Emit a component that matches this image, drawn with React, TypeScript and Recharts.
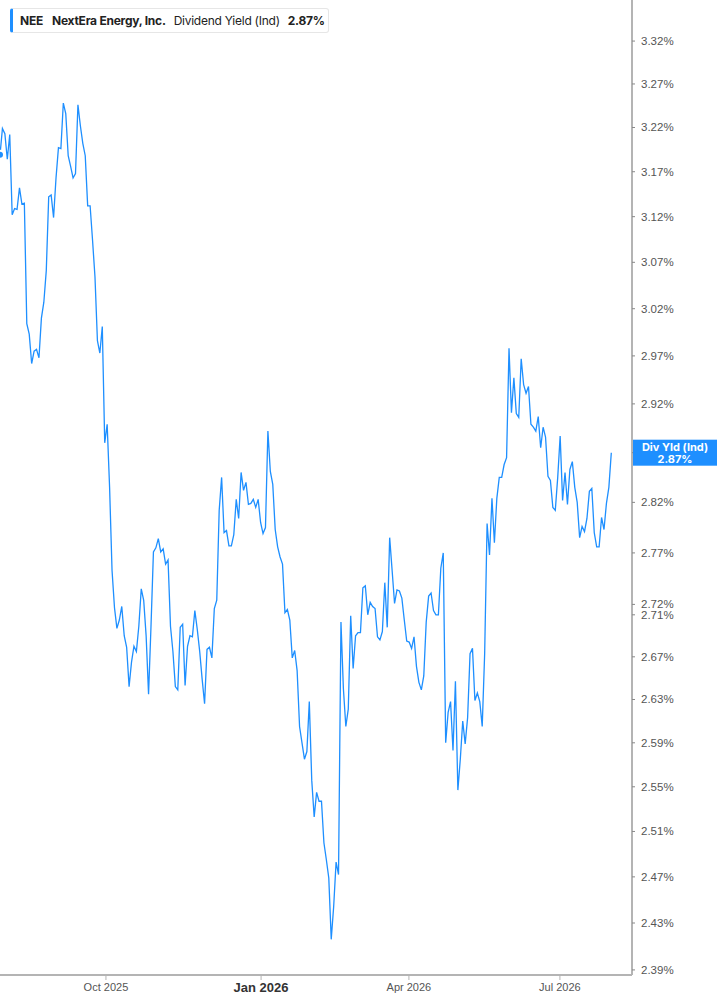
import { LineChart, Line, XAxis, YAxis } from 'recharts'

// NEE indicated dividend yield (%), one value per trading day
const julSep2025 = [
  3.189, 3.219, 3.213, 3.184, 3.212, 3.122, 3.129, 3.128, 3.152, 3.134, 3.135,
  3.004, 2.993, 2.962, 2.975, 2.977, 2.968, 3.010, 3.027, 3.061, 3.142, 3.144,
  3.119, 3.163, 3.197, 3.196, 3.248, 3.236, 3.188, 3.176, 3.163, 3.168, 3.246,
  3.222, 3.202, 3.188, 3.132, 3.132, 3.094, 3.054, 2.986, 2.973, 3.001, 2.880,
]
const q4_2025 = [
  2.899, 2.835, 2.753, 2.717, 2.697, 2.705, 2.718, 2.690, 2.679, 2.642, 2.665,
  2.680, 2.675, 2.699, 2.735, 2.724, 2.690, 2.635, 2.699, 2.771, 2.775, 2.784,
  2.771, 2.774, 2.759, 2.763, 2.699, 2.675, 2.642, 2.639, 2.698, 2.701, 2.643,
  2.680, 2.690, 2.689, 2.714, 2.696, 2.675, 2.649, 2.626, 2.677, 2.679, 2.669,
  2.716, 2.724, 2.812, 2.845, 2.790, 2.792, 2.777, 2.777, 2.788, 2.823, 2.804,
  2.850, 2.832, 2.840, 2.818, 2.819, 2.823, 2.815, 2.823, 2.800,
]
const q1_2026 = [
  2.789, 2.795, 2.892, 2.851, 2.838, 2.793, 2.776, 2.766, 2.759, 2.712, 2.715,
  2.705, 2.669, 2.676, 2.657, 2.605, 2.590, 2.575, 2.582, 2.628, 2.556, 2.523,
  2.545, 2.537, 2.537, 2.500, 2.485, 2.469, 2.416, 2.444, 2.483, 2.472, 2.703,
  2.640, 2.605, 2.621, 2.709, 2.659, 2.690, 2.693, 2.693, 2.736, 2.738, 2.710,
  2.722, 2.718, 2.716, 2.689, 2.686, 2.694, 2.741, 2.698, 2.785, 2.753, 2.721,
  2.734, 2.733, 2.726, 2.705, 2.685,
]
const q2_2026 = [
  2.684, 2.678, 2.689, 2.661, 2.646, 2.639, 2.652, 2.703, 2.728, 2.731, 2.714,
  2.710, 2.710, 2.755, 2.770, 2.590, 2.618, 2.628, 2.583, 2.647, 2.547, 2.575,
  2.610, 2.589, 2.613, 2.673, 2.678, 2.629, 2.636, 2.628, 2.605, 2.673, 2.799,
  2.768, 2.824, 2.780, 2.824, 2.845, 2.845, 2.858, 2.865, 2.978, 2.911, 2.947,
  2.910, 2.906, 2.967, 2.940, 2.931, 2.938, 2.899, 2.896, 2.892, 2.907, 2.875,
  2.896, 2.886, 2.846, 2.842, 2.815, 2.812, 2.845,
]
const jul2026 = [
  2.887, 2.822, 2.850, 2.818, 2.853, 2.861, 2.835, 2.820, 2.785, 2.796, 2.791,
  2.804, 2.831, 2.834, 2.790, 2.776, 2.776, 2.805, 2.793, 2.819, 2.835, 2.870,
]

const divYield = [...julSep2025, ...q4_2025, ...q1_2026, ...q2_2026, ...jul2026]
const data = divYield.map((v, i) => ({ i, v }))

const lastYield = 2.87
const yTicks = [
  2.39, 2.43, 2.47, 2.51, 2.55, 2.59, 2.63, 2.67, 2.71, 2.72, 2.77, 2.82,
  2.87, 2.92, 2.97, 3.02, 3.07, 3.12, 3.17, 3.22, 3.27, 3.32,
]
// trading-day index of the first session of each quarter
const xTicks = [43.5, 107.2, 167.9, 229.9]
const xTickLabels = ['Oct 2025', 'Jan 2026', 'Apr 2026', 'Jul 2026']

const BLUE = '#1e8fff'
const AXIS = '#b4b4b4'
const tickFont = '"Liberation Sans", Arial, sans-serif'

const YTick = ({ x, y, payload }: any) => {
  if (payload.value === lastYield) {
    return (
      <g>
        <rect x={x - 8} y={y - 13} width={86} height={26} fill={BLUE} />
        <text x={x + 34} y={y - 2} textAnchor="middle" fill="#fff" fontSize={11} fontWeight={700} fontFamily="Inter, sans-serif">
          Div Yld (Ind)
        </text>
        <text x={x + 34} y={y + 10} textAnchor="middle" fill="#fff" fontSize={11} fontWeight={700} fontFamily="Inter, sans-serif">
          {lastYield.toFixed(2)}%
        </text>
      </g>
    )
  }
  return (
    <text x={x} y={y} dy={4} textAnchor="start" fill="#555" fontSize={11.5} fontFamily={tickFont}>
      {payload.value.toFixed(2)}%
    </text>
  )
}

const XTick = ({ x, y, payload }: any) => {
  const label = xTickLabels[xTicks.indexOf(payload.value)]
  const isYear = label === 'Jan 2026'
  return (
    <text
      x={x}
      y={y}
      dy={isYear ? 10 : 9}
      textAnchor="middle"
      fill={isYear ? '#333' : '#555'}
      fontSize={isYear ? 13 : 11}
      fontWeight={isYear ? 700 : 400}
      fontFamily={tickFont}
    >
      {label}
    </text>
  )
}

export default function App() {
  return (
    <div style={{ position: 'absolute', left: 0, top: 0, width: 717, height: 1005, background: '#fff' }}>
      <LineChart width={717} height={1005} data={data} margin={{ top: 0, right: 0, left: 0, bottom: 0 }}>
        <XAxis
          dataKey="i"
          type="number"
          domain={[0, 259.5]}
          ticks={xTicks}
          height={30}
          axisLine={{ stroke: AXIS, strokeWidth: 2 }}
          tickLine={{ stroke: AXIS }}
          tickSize={5}
          tick={<XTick />}
          interval={0}
        />
        <YAxis
          orientation="right"
          scale="log"
          type="number"
          domain={[2.3857, 3.3686]}
          allowDataOverflow
          ticks={yTicks}
          width={85}
          axisLine={{ stroke: AXIS, strokeWidth: 2 }}
          tickLine={{ stroke: '#888' }}
          tickSize={3}
          tickMargin={6}
          tick={<YTick />}
          interval={0}
        />
        <Line
          type="linear"
          dataKey="v"
          stroke={BLUE}
          strokeWidth={1.3}
          dot={false}
          isAnimationActive={false}
        />
      </LineChart>
      <div
        style={{
          position: 'absolute',
          left: 10,
          top: 8,
          width: 319,
          height: 25,
          boxSizing: 'border-box',
          border: '1px solid #e6e6e6',
          borderLeft: `3px solid ${BLUE}`,
          borderRadius: 3,
          background: '#fff',
          display: 'flex',
          alignItems: 'center',
          fontFamily: 'Inter, sans-serif',
          fontSize: 12,
          letterSpacing: -0.25,
          color: '#222',
          whiteSpace: 'nowrap',
          paddingLeft: 7,
        }}
      >
        <b>NEE</b>
        <b style={{ marginLeft: 9 }}>NextEra Energy, Inc.</b>
        <span style={{ marginLeft: 8 }}>Dividend Yield (Ind)</span>
        <b style={{ marginLeft: 8 }}>{lastYield.toFixed(2)}%</b>
      </div>
    </div>
  )
}
